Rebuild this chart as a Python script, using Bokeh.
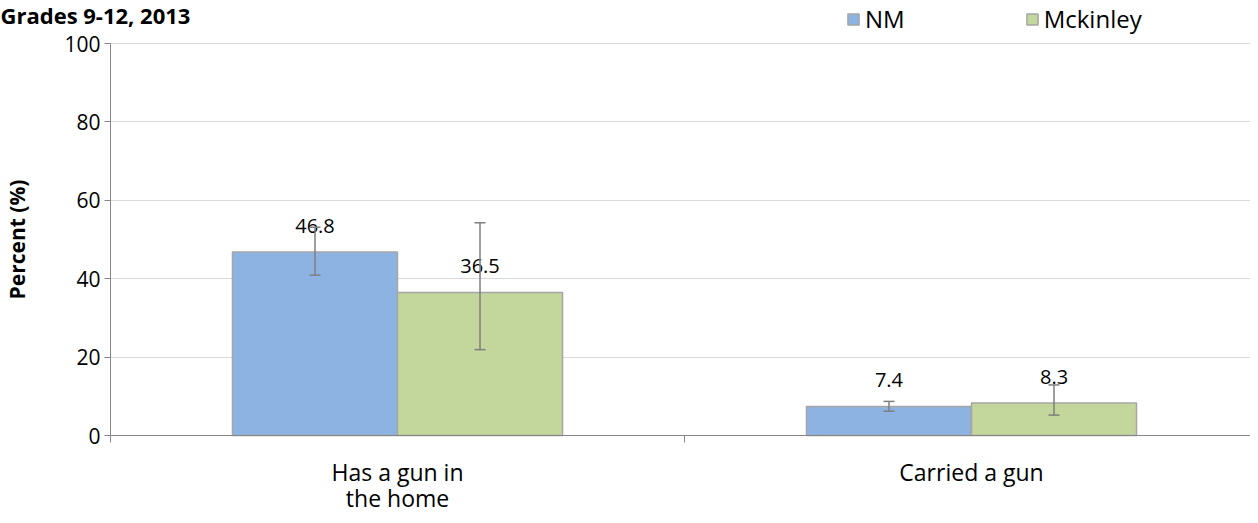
from bokeh.plotting import figure
from bokeh.models import (ColumnDataSource, Range1d, FixedTicker, Whisker, Legend,
                          LegendItem, Label)
from bokeh.embed import file_html
from bokeh.resources import INLINE
from bokeh.core.properties import value

categories = ["Has a gun in\nthe home", "Carried a gun"]
series = ["NM", "Mckinley"]
nm_values = [46.8, 7.4]
nm_lower = [40.9, 6.2]
nm_upper = [53.1, 8.7]
mck_values = [36.5, 8.3]
mck_lower = [21.9, 5.2]
mck_upper = [54.3, 12.9]
y_ticks = [0, 20, 40, 60, 80, 100]
title_text = "Grades 9-12, 2013"

FONT = "Open Sans"
colors = ["#8DB3E2", "#C3D69B"]
bar_w = 0.2875

# layout (pixels)
W, H = 1250, 515
AX_LEFT, AX_TOP, AX_BOTTOM = 110, 43, 435
PPU_X = 574
ymax = y_ticks[-1]
ppu_y = (AX_BOTTOM - AX_TOP) / ymax

p = figure(width=W, height=H, output_backend="svg", toolbar_location=None,
           x_range=Range1d(-AX_LEFT / PPU_X, (W - AX_LEFT) / PPU_X),
           y_range=Range1d(-(H - AX_BOTTOM) / ppu_y, ymax + AX_TOP / ppu_y),
           min_border_left=0, min_border_right=0, min_border_top=0, min_border_bottom=0)
p.outline_line_color = None
p.background_fill_color = "white"
p.title.visible = False

centers = [i + 0.5 for i in range(len(categories))]
renderers = []
for k, (vals, lo, hi) in enumerate([(nm_values, nm_lower, nm_upper), (mck_values, mck_lower, mck_upper)]):
    off = (k - 0.5) * bar_w
    xs = [c + off for c in centers]
    src = ColumnDataSource(dict(x=xs, top=vals, lower=lo, upper=hi,
                                lab=[f"{v:.1f}" for v in vals]))
    r = p.vbar(x="x", top="top", width=bar_w, source=src, fill_color=colors[k],
               line_color="#A6A6A6", line_width=1.5)
    renderers.append(r)
    w = Whisker(base="x", lower="lower", upper="upper", source=src, level="overlay",
                line_color="#7F7F7F", line_width=1.5)
    for head in (w.upper_head, w.lower_head):
        head.size = 11
        head.line_color = "#7F7F7F"
        head.line_width = 1.5
    p.add_layout(w)
    p.text(x="x", y="top", text="lab", source=src, text_align="center",
           text_baseline="alphabetic", y_offset=-26, text_font=value(FONT),
           text_font_size="20px", text_color="#000000", level="overlay")

# x axis
p.xaxis.fixed_location = 0
p.xaxis.bounds = (0, len(categories))
p.xaxis.ticker = FixedTicker(ticks=centers, minor_ticks=list(range(len(categories) + 1)))
p.xaxis.major_label_overrides = {c: lab for c, lab in zip(centers, categories)}
p.xaxis.major_tick_out = 0
p.xaxis.major_tick_in = 0
p.xaxis.minor_tick_out = 7
p.xaxis.minor_tick_in = 0
p.xaxis.minor_tick_line_color = "#868686"
p.xaxis.axis_line_color = "#868686"
p.xaxis.major_label_standoff = 13
p.xaxis.major_label_text_font = FONT
p.xaxis.major_label_text_font_size = "23px"
p.xaxis.major_label_text_line_height = 0.82
p.xaxis.major_label_text_color = "#000000"

# y axis
p.yaxis.fixed_location = 0
p.yaxis.bounds = (0, ymax)
p.yaxis.ticker = FixedTicker(ticks=y_ticks)
p.yaxis.minor_tick_line_color = None
p.yaxis.major_tick_out = 6
p.yaxis.major_tick_in = 0
p.yaxis.major_tick_line_color = "#868686"
p.yaxis.axis_line_color = "#868686"
p.yaxis.major_label_text_font = FONT
p.yaxis.major_label_text_font_size = "21px"
p.yaxis.major_label_text_color = "#000000"
p.yaxis.major_label_standoff = 4
p.yaxis.axis_label = "Percent (%)"
p.yaxis.axis_label_text_font = FONT
p.yaxis.axis_label_text_font_size = "21px"
p.yaxis.axis_label_text_font_style = "bold"
p.yaxis.axis_label_text_color = "#000000"
p.yaxis.axis_label_standoff = 30

p.xgrid.grid_line_color = None
p.ygrid.grid_line_color = "#D9D9D9"
p.ygrid.grid_line_width = 1
p.ygrid.cross_bounds = (0, len(categories))

p.add_layout(Label(x=0, y=H - 14, x_units="screen", y_units="screen", text=title_text,
                   text_font=FONT, text_font_size="22px", text_font_style="bold",
                   text_color="#000000", text_baseline="alphabetic"))

legend = Legend(items=[LegendItem(label=s, renderers=[r]) for s, r in zip(series, renderers)],
                orientation="horizontal", location=(846, H - 35),
                label_text_font=FONT, label_text_font_size="24px", label_text_color="#000000",
                glyph_width=14, glyph_height=14, spacing=120, padding=0, margin=0,
                background_fill_alpha=0, border_line_color=None, label_standoff=5)
p.add_layout(legend, "center")

open("out.html", "w").write(file_html(p, INLINE))
